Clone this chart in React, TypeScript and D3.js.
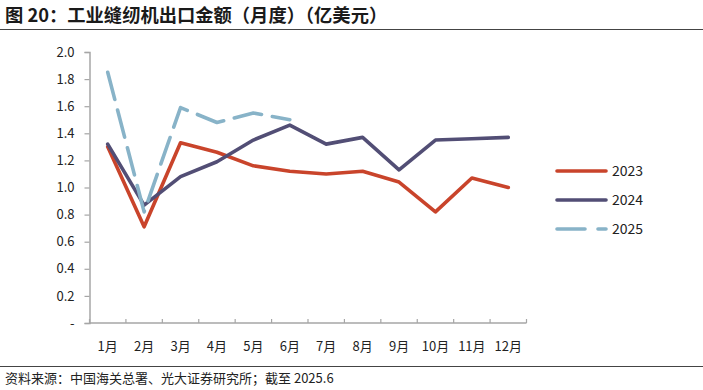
import React, { useEffect, useRef } from 'react';
import * as d3 from 'd3';

const months = ['1月', '2月', '3月', '4月', '5月', '6月', '7月', '8月', '9月', '10月', '11月', '12月'];
const v2023 = [1.3, 0.71, 1.33, 1.26, 1.16, 1.12, 1.1, 1.12, 1.04, 0.82, 1.07, 1.0];
const v2024 = [1.32, 0.87, 1.08, 1.19, 1.35, 1.46, 1.32, 1.37, 1.13, 1.35, 1.36, 1.37];
const v2025 = [1.85, 0.82, 1.59, 1.48, 1.55, 1.5];
const yTicks = [0, 0.2, 0.4, 0.6, 0.8, 1.0, 1.2, 1.4, 1.6, 1.8, 2.0];

const FONT = '"Noto Sans CJK SC", "Noto Sans", sans-serif';

export default function App() {
  const ref = useRef<SVGSVGElement>(null);

  useEffect(() => {
    const svg = d3.select(ref.current);
    svg.selectAll('*').remove();

    // title
    svg.append('text').attr('x', 5).attr('y', 22)
      .style('font-family', FONT).style('font-size', '18.3px').style('font-weight', 'bold')
      .attr('fill', '#1a1a1a').text('图 20：工业缝纫机出口金额（月度）（亿美元）');
    svg.append('line').attr('x1', 0).attr('x2', 703).attr('y1', 29.5).attr('y2', 29.5)
      .attr('stroke', '#444').attr('stroke-width', 1.2);

    const x = d3.scaleBand().domain(months).range([89.5, 526.5]);
    const y = d3.scaleLinear().domain([0, 2]).range([323, 52]);
    const cx = (i: number) => (x(months[i]) as number) + x.bandwidth() / 2;

    // y axis
    const yAxis = d3.axisLeft(y).tickValues(yTicks).tickSize(5).tickPadding(10)
      .tickFormat((d: any) => (d === 0 ? '-' : d3.format('.1f')(d)));
    const gy = svg.append('g').attr('transform', 'translate(89.5,0)').call(yAxis);
    gy.select('.domain').attr('stroke', '#a6a6a6').attr('stroke-width', 1.5);
    gy.selectAll('.tick line').attr('stroke', '#a6a6a6').attr('stroke-width', 1.2);
    gy.selectAll('.tick text').style('font-family', FONT).style('font-size', '13px').attr('fill', '#222');

    // x axis
    const gx = svg.append('g').attr('transform', 'translate(0,323)');
    gx.append('line').attr('x1', 89.5).attr('x2', 526.5).attr('stroke', '#a6a6a6').attr('stroke-width', 1.5);
    const edges = months.map((m) => x(m) as number).concat([526.5]);
    gx.selectAll('.xt').data(edges).join('line').attr('class', 'xt')
      .attr('x1', (d) => d).attr('x2', (d) => d).attr('y1', 0).attr('y2', -4)
      .attr('stroke', '#a6a6a6').attr('stroke-width', 1.2);
    gx.selectAll('.xl').data(months).join('text').attr('class', 'xl')
      .attr('x', (d) => (x(d) as number) + x.bandwidth() / 2).attr('y', 28)
      .attr('text-anchor', 'middle').style('font-family', FONT).style('font-size', '13px')
      .attr('fill', '#222').text((d) => d);

    const line = d3.line<number>().x((d, i) => cx(i)).y((d) => y(d));
    const series = [
      { name: '2023', data: v2023, color: '#c9442b', dash: null },
      { name: '2024', data: v2024, color: '#524e75', dash: null },
      { name: '2025', data: v2025, color: '#88b3c8', dash: '28,11' },
    ];
    series.forEach((s) => {
      svg.append('path').datum(s.data).attr('d', line).attr('fill', 'none')
        .attr('stroke', s.color).attr('stroke-width', 3.6)
        .attr('stroke-linejoin', 'round').attr('stroke-linecap', 'round')
        .attr('stroke-dasharray', s.dash);
    });

    // legend
    const lg = svg.append('g');
    series.forEach((s, i) => {
      const ly = 171 + i * 29;
      lg.append('line').attr('x1', 557).attr('x2', 606).attr('y1', ly).attr('y2', ly)
        .attr('stroke', s.color).attr('stroke-width', 3.6).attr('stroke-linecap', 'round')
        .attr('stroke-dasharray', s.dash ? '28,13' : null);
      lg.append('text').attr('x', 612).attr('y', ly + 5).style('font-family', FONT)
        .style('font-size', '14px').attr('fill', '#222').text(s.name);
    });

    // footer
    svg.append('line').attr('x1', 0).attr('x2', 703).attr('y1', 366.5).attr('y2', 366.5)
      .attr('stroke', '#444').attr('stroke-width', 1);
    svg.append('text').attr('x', 5).attr('y', 383).style('font-family', FONT)
      .style('font-size', '13px').attr('fill', '#222').text('资料来源：中国海关总署、光大证券研究所；截至 2025.6');
  }, []);

  return (
    <svg ref={ref} width={703} height={390} style={{ position: 'absolute', left: 0, top: 0, background: '#fff' }} />
  );
}
